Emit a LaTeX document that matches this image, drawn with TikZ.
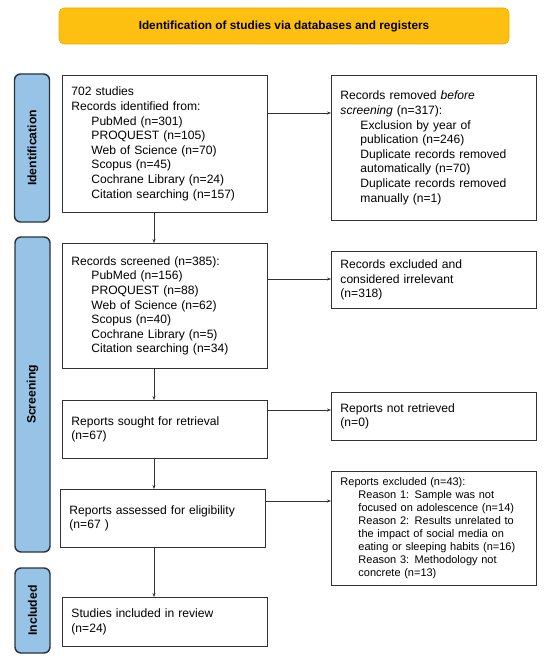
\documentclass[tikz,border=0pt]{standalone}
\usepackage{fontspec}
\setmainfont{Liberation Sans}
\usetikzlibrary{arrows.meta}
\definecolor{titlefill}{RGB}{253,192,16}
\definecolor{titledraw}{RGB}{232,170,0}
\definecolor{barfill}{RGB}{150,195,230}
\definecolor{bardraw}{RGB}{40,50,62}
\definecolor{boxc}{RGB}{50,50,50}
\begin{document}
\begin{tikzpicture}[x=1pt,y=-1pt,
  box/.style={draw=boxc, line width=0.9pt, fill=white, minimum width=205pt,
    text width=187pt, align=left, inner xsep=9pt, inner ysep=0pt,
    font=\fontsize{12.1}{14.6}\selectfont, anchor=north west},
  sidebar/.style={draw=bardraw, line width=1.4pt, fill=barfill, rounded corners=6pt,
    rotate=90, minimum height=35pt, inner sep=0pt, font=\fontsize{12.2}{13}\selectfont\bfseries},
  flow/.style={draw=boxc, line width=0.7pt, -{Stealth[length=4pt,width=3pt]}}]
\useasboundingbox (0,0) rectangle (550,666);
% title
\node[draw=titledraw, line width=0.6pt, fill=titlefill, rounded corners=5pt,
  minimum width=450pt, minimum height=36pt, font=\fontsize{11.8}{13}\selectfont\bfseries]
  (title) at (284,26) {Identification of studies via databases and registers};
% side bars
\node[sidebar, minimum width=148pt] (sid) at (32,148) {Identification};
\node[sidebar, minimum width=315pt] (sscr) at (32.5,394.5) {Screening};
\node[sidebar, minimum width=85pt] (sinc) at (32.5,610.5) {Included};
% left column
\node[box, minimum height=137pt] (id1) at (62,75) {702 studies\\Records identified from:\\
\hspace*{20pt}PubMed (n=301)\\\hspace*{20pt}PROQUEST (n=105)\\\hspace*{20pt}Web of Science (n=70)\\
\hspace*{20pt}Scopus (n=45)\\\hspace*{20pt}Cochrane Library (n=24)\\\hspace*{20pt}Citation searching (n=157)};
\node[box, minimum height=125pt] (scr) at (62,243) {Records screened (n=385):\\
\hspace*{20pt}PubMed (n=156)\\\hspace*{20pt}PROQUEST (n=88)\\\hspace*{20pt}Web of Science (n=62)\\
\hspace*{20pt}Scopus (n=40)\\\hspace*{20pt}Cochrane Library (n=5)\\\hspace*{20pt}Citation searching (n=34)};
\node[box, minimum height=58pt] (sought) at (62,400) {Reports sought for retrieval\\(n=67)};
\node[box, minimum height=58pt] (assess) at (60,489) {Reports assessed for eligibility\\(n=67 )};
\node[box, minimum height=49pt] (incl) at (62,597) {Studies included in review\\(n=24)};
% right column
\node[box, minimum height=145pt] (rem) at (331,75) {Records removed \textit{before}\\\textit{screening} (n=317):\\
\hspace*{20pt}Exclusion by year of\\\hspace*{20pt}publication (n=246)\\\hspace*{20pt}Duplicate records removed\\
\hspace*{20pt}automatically (n=70)\\\hspace*{20pt}Duplicate records removed\\\hspace*{20pt}manually (n=1)};
\node[box, minimum height=57pt] (exc) at (331,251) {Records excluded and\\considered irrelevant\\(n=318)};
\node[box, minimum height=48pt] (notret) at (331,392) {Reports not retrieved\\(n=0)};
\node[box, minimum height=114pt, font=\fontsize{11}{13}\selectfont] (rexc) at (331,471) {Reports excluded (n=43):\\
\hspace*{18pt}Reason 1: Sample was not\\\hspace*{18pt}focused on adolescence (n=14)\\
\hspace*{18pt}Reason 2: Results unrelated to\\\hspace*{18pt}the impact of social media on\\
\hspace*{18pt}eating or sleeping habits (n=16)\\\hspace*{18pt}Reason 3: Methodology not\\\hspace*{18pt}concrete (n=13)};
% connectors
\coordinate (ax) at (154,0);
\coordinate (y1) at (0,113);
\coordinate (y2) at (0,279);
\coordinate (y3) at (0,410);
\coordinate (y4) at (0,501);
\draw[flow] (id1.south -| ax) -- (scr.north -| ax);
\draw[flow] (scr.south -| ax) -- (sought.north -| ax);
\draw[flow] (sought.south -| ax) -- (assess.north -| ax);
\draw[flow] (assess.south -| ax) -- (incl.north -| ax);
\draw[flow] (id1.east |- y1) -- (rem.west |- y1);
\draw[flow] (scr.east |- y2) -- (exc.west |- y2);
\draw[flow] (sought.east |- y3) -- (notret.west |- y3);
\draw[flow] (assess.east |- y4) -- (rexc.west |- y4);
\end{tikzpicture}
\end{document}
